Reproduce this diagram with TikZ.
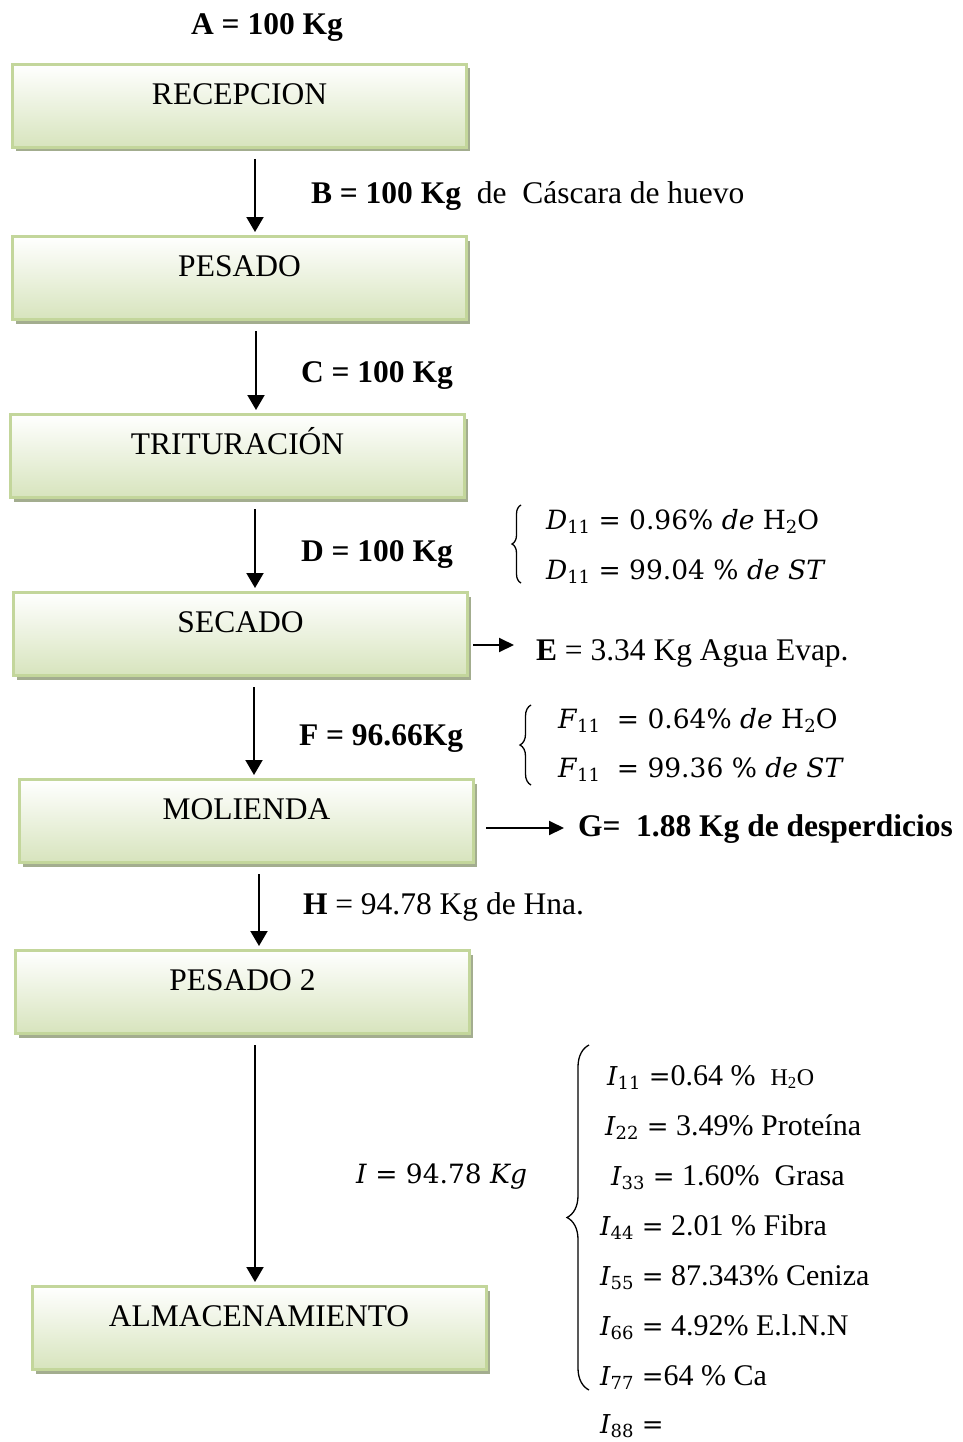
\documentclass[tikz,border=0pt]{standalone}
\usepackage{fontspec}
\setmainfont{Liberation Serif}
\newfontfamily\mate{DejaVu Serif}
\usepackage{xcolor}
\usepackage{tikz}
\usetikzlibrary{arrows.meta,positioning,shadows,decorations.pathreplacing}
\definecolor{hoja}{HTML}{C3D69B}
\definecolor{hojaclara}{HTML}{D7E4BD}
\definecolor{sombra}{HTML}{A3AD8F}
\newcommand{\subi}[1]{\raisebox{-0.35ex}{\mate\upshape\fontsize{18}{20}\selectfont #1}}
\newcommand{\ivar}[1]{{\mate\fontsize{26}{30}\selectfont\textit{I}\subi{#1} =}}

\begin{document}
\begin{tikzpicture}[x=1pt, y=-1pt, >={Triangle[length=15pt,width=17pt]}, line width=2pt,
      etapa/.style={draw=hoja, line width=3pt, top color=white, bottom color=hojaclara,
        minimum width=454pt, inner sep=0pt, text height=40pt, text depth=43pt,
        font=\fontsize{31.5}{37}\selectfont,
        drop shadow={shadow xshift=3.5pt, shadow yshift=-4pt, fill=sombra, opacity=1}},
      dato/.style={font=\fontsize{31.5}{37}\selectfont, inner sep=0pt, anchor=base west},
      ecua/.style={font=\mate\fontsize{26.5}{30}\selectfont, inner sep=0pt, anchor=base west},
      comp/.style={font=\fontsize{30}{36}\selectfont, inner sep=0pt, anchor=base west},
      llave/.style={decorate, line width=1.3pt},
      flujo/.style={->, shorten <=10pt, shorten >=3pt}]
    \useasboundingbox (0,0) rectangle (963,1442);
    % etapas del proceso
    \node[etapa] (rec) at (239.5,106) {RECEPCION};
    \node[etapa] (pes) at (239.5,278) {PESADO};
    \node[etapa] (tri) at (237.5,456) {TRITURACIÓN};
    \node[etapa] (sec) at (240.5,634) {SECADO};
    \node[etapa] (mol) at (246.5,821) {MOLIENDA};
    \node[etapa] (pes2) at (242.5,992) {PESADO 2};
    \node[etapa] (alm) at (259,1328) {ALMACENAMIENTO};
    % corrientes
    \node[dato, anchor=base] (a) at (267,35) {\textbf{A = 100 Kg}};
    \node[dato] (b) at (310,204) {\textbf{B = 100 Kg}\ \ de\ \ Cáscara de huevo};
    \node[dato] (c) at (300,382) {\textbf{C = 100 Kg}};
    \node[dato] (d) at (300,561) {\textbf{D = 100 Kg}};
    \node[dato] (e) at (535,660) {\textbf{E} = 3.34 Kg Agua Evap.};
    \node[dato] (f) at (298,745) {\textbf{F = 96.66Kg}};
    \node[dato] (g) at (577,836) {\textbf{G=\ \ 1.88 Kg de desperdicios}};
    \node[dato] (h) at (302,914) {\textbf{H} = 94.78 Kg de Hna.};
    \node[ecua] (i) at (355,1183) {\textit{I} = 94.78 \textit{Kg}};
    % composiciones
    \node[ecua] (d1) at (545,529) {\textit{D}\subi{11} = 0.96\% \textit{de} H\subi{2}O};
    \node[ecua] (d2) at (545,579) {\textit{D}\subi{11} = 99.04 \% \textit{de ST}};
    \node[ecua] (f1) at (557,728) {\textit{F}\subi{11}\ \ = 0.64\% \textit{de} H\subi{2}O};
    \node[ecua] (f2) at (557,777) {\textit{F}\subi{11}\ \ = 99.36 \% \textit{de ST}};
    \node[comp] (i1) at (606,1085) {\ivar{11}0.64 \%\ \ {\fontsize{24}{28}\selectfont H\textsubscript{2}O}};
    \node[comp] (i2) at (604,1135) {\ivar{22} 3.49\% Proteína};
    \node[comp] (i3) at (610,1185) {\ivar{33} 1.60\%\ \ Grasa};
    \node[comp] (i4) at (599,1235) {\ivar{44} 2.01 \% Fibra};
    \node[comp] (i5) at (599,1285) {\ivar{55} 87.343\% Ceniza};
    \node[comp] (i6) at (599,1335) {\ivar{66} 4.92\% E.l.N.N};
    \node[comp] (i7) at (599,1385) {\ivar{77}64 \% Ca};
    \node[comp] (i8) at (599,1433) {\ivar{88}};
    \draw[llave, decoration={brace, amplitude=9pt}] (521,583) -- (521,505);
    \draw[llave, decoration={brace, amplitude=11pt}] (531,785) -- (531,705);
    \draw[llave, decoration={brace, amplitude=22pt}] (589,1390) -- (589,1045);
    % flechas
    \draw[flujo] ([xshift=15.5pt]rec.south) -- ([xshift=15.5pt]rec.south |- pes.north);
    \draw[flujo] ([xshift=16.5pt]pes.south) -- ([xshift=16.5pt]pes.south |- tri.north);
    \draw[flujo] ([xshift=17.5pt]tri.south) -- ([xshift=17.5pt]tri.south |- sec.north);
    \draw[flujo] ([xshift=13.5pt]sec.south) -- ([xshift=13.5pt]sec.south |- mol.north);
    \draw[flujo] ([xshift=12.5pt]mol.south) -- ([xshift=12.5pt]mol.south |- pes2.north);
    \draw[flujo] ([xshift=12.5pt]pes2.south) -- ([xshift=12.5pt]pes2.south |- alm.north);
    \draw[->, >={Triangle[length=15pt,width=14pt]}, shorten >=25pt] ([shift={(4,11)}]sec.east) -- ([shift={(4,11)}]sec.east -| e.west);
    \draw[->, >={Triangle[length=15pt,width=14pt]}, shorten >=24pt] ([shift={(11,7)}]mol.east) -- ([shift={(11,7)}]mol.east -| g.west);
  \end{tikzpicture}
\end{document}
